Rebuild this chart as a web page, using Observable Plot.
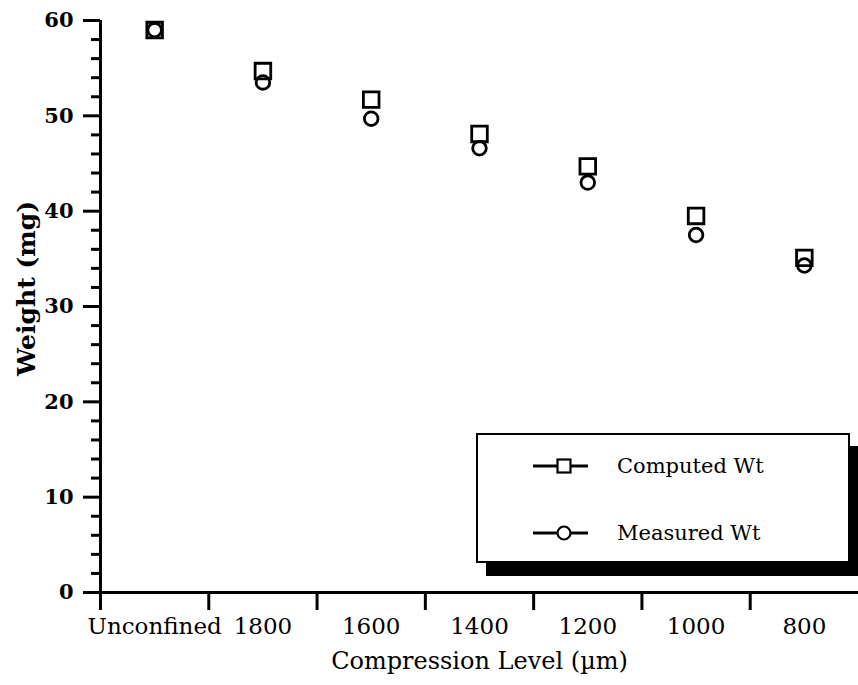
<!DOCTYPE html>
<html>
<head>
<meta charset="utf-8">
<script src="https://cdn.jsdelivr.net/npm/d3@7"></script>
<script src="https://cdn.jsdelivr.net/npm/@observablehq/plot@0.6"></script>
<style>
  html, body { margin: 0; padding: 0; background: #fff; }
  #wrap { position: relative; width: 858px; height: 685px; font-family: "DejaVu Serif", serif; }
  #legend {
    position: absolute; left: 476px; top: 433px; width: 370px; height: 126px;
    border: 2.5px solid #000; background: #fff; box-shadow: 10px 13px 0 0 #000;
  }
  #legend svg { position: absolute; left: 0; top: 0; }
</style>
</head>
<body>
<div id="wrap"></div>
<script>
// Compression levels (µm) and weights (mg)
const categories = ["Unconfined", "1800", "1600", "1400", "1200", "1000", "800"];
const computedWt = [59.0, 54.7, 51.7, 48.1, 44.7, 39.5, 35.1];
const measuredWt = [59.0, 53.5, 49.7, 46.6, 43.0, 37.5, 34.3];
const yMajorTicks = [0, 10, 20, 30, 40, 50, 60];
const xTitle = "Compression Level (µm)";
const yTitle = "Weight (mg)";
const seriesNames = ["Computed Wt", "Measured Wt"];

// Each category occupies one unit; points sit at the middle of it
const computed = categories.map((c, i) => ({i: i + 0.5, v: computedWt[i]}));
const measured = categories.map((c, i) => ({i: i + 0.5, v: measuredWt[i]}));
const boundaries = d3.range(0, categories.length);
const centers = boundaries.map(i => i + 0.5);
const yMinorTicks = d3.range(0, 61, 2).filter(t => t % 10 !== 0);

const font = "DejaVu Serif";

const chart = Plot.plot({
  width: 858,
  height: 685,
  marginLeft: 100,
  marginRight: 0,
  marginTop: 20,
  marginBottom: 93,
  style: {fontFamily: font, fontSize: "20px", color: "#000", background: "#fff"},
  x: {type: "linear", domain: [0, categories.length]},
  y: {domain: [0, 60]},
  marks: [
    // minor and major y ticks
    Plot.axisY({ticks: yMinorTicks, tickSize: 9, strokeWidth: 3, tickFormat: () => "", label: null}),
    Plot.axisY({ticks: yMajorTicks, tickSize: 17, tickPadding: 10, strokeWidth: 3,
      fontSize: 21, fontWeight: "bold", label: null}),
    // x tick marks at category boundaries, labels at category centers
    Plot.axisX({ticks: boundaries, tickSize: 18, strokeWidth: 3, tickFormat: () => "", label: null}),
    Plot.axisX({ticks: centers, tickSize: 0, tickPadding: 25, fontSize: 23,
      tickFormat: d => categories[Math.floor(d)], label: null}),
    // axis lines
    Plot.ruleX([0], {strokeWidth: 3}),
    Plot.ruleY([0], {strokeWidth: 3}),
    // axis titles
    Plot.text([xTitle], {frameAnchor: "bottom", dy: 76, fontSize: 24}),
    Plot.text([yTitle], {frameAnchor: "left", textAnchor: "middle", dx: -74, dy: -18, rotate: -90,
      fontSize: 25, fontWeight: "bold"}),
    // series
    Plot.dot(computed, {x: "i", y: "v", symbol: "square", r: 8.8, stroke: "#000", strokeWidth: 2.8, fill: "none"}),
    Plot.dot(measured, {x: "i", y: "v", symbol: "circle", r: 6.8, stroke: "#000", strokeWidth: 2.8, fill: "none"})
  ]
});

const wrap = document.getElementById("wrap");
wrap.appendChild(chart);

// Legend box with line-and-marker samples
const legend = document.createElement("div");
legend.id = "legend";
wrap.appendChild(legend);
const lsvg = d3.select(legend).append("svg").attr("width", 370).attr("height", 126);
const rows = [
  {name: seriesNames[0], y: 31, symbol: "square"},
  {name: seriesNames[1], y: 98, symbol: "circle"}
];
rows.forEach(r => {
  lsvg.append("line").attr("x1", 55).attr("x2", 110).attr("y1", r.y).attr("y2", r.y)
    .attr("stroke", "#000").attr("stroke-width", 3);
  if (r.symbol === "square") {
    lsvg.append("rect").attr("x", 79.5).attr("y", r.y - 6.5).attr("width", 13).attr("height", 13)
      .attr("fill", "#fff").attr("stroke", "#000").attr("stroke-width", 2.2);
  } else {
    lsvg.append("circle").attr("cx", 86).attr("cy", r.y).attr("r", 6.5)
      .attr("fill", "#fff").attr("stroke", "#000").attr("stroke-width", 2.2);
  }
  lsvg.append("text").attr("x", 139).attr("y", r.y).attr("dy", "0.35em")
    .attr("font-family", font).attr("font-size", 21).text(r.name);
});
</script>
</body>
</html>
